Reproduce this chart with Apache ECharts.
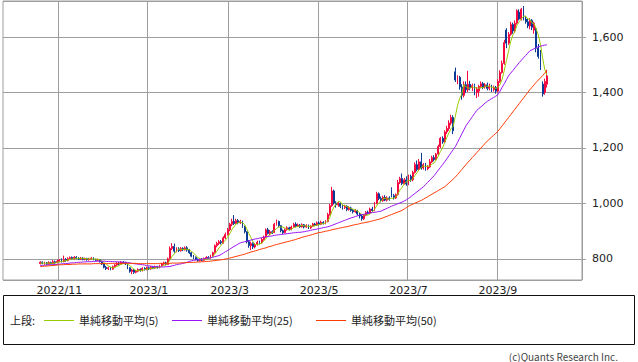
<!DOCTYPE html>
<html><head><meta charset="utf-8">
<script src="https://cdn.jsdelivr.net/npm/echarts@6/dist/echarts.min.js"></script>
<style>html,body{margin:0;padding:0;background:#fff}#c{width:638px;height:362px}</style>
</head><body><div id="c"></div>
<script>
// ---- data ----
const startDate = [2022, 10, 19];
const holidays = ['2022-11-03','2022-11-23','2023-01-02','2023-01-03','2023-01-09','2023-02-23','2023-03-21','2023-05-03','2023-05-04','2023-05-05','2023-07-17','2023-08-11','2023-09-18'];
const padBefore = 17, padAfter = 16;

const opens = [
783,788,784,786,781,787,783,790,786,
792,796,790,798,794,801,805,800,806,802,799,803,798,801,797,800,803,798,795,797,
790,782,770,765,768,763,772,778,784,781,788,785,782,768,755,760,752,756,762,758,766,762,
768,764,770,767,772,768,775,782,786,780,800,838,845,828,836,830,838,833,840,
832,822,810,805,798,794,799,795,801,805,803,810,822,848,856,862,858,876,888,
905,925,935,928,938,930,935,918,898,862,848,855,843,852,860,858,870,880,905,892,898,895,
925,935,920,902,895,905,912,906,915,925,918,922,916,923,915,920,912,918,926,922,
930,925,932,928,935,960,992,1045,1002,995,1000,990,985,990,978,984,975,970,974,962,
955,945,958,968,965,980,975,1000,1035,1018,1010,1022,1012,1020,1050,1028,1020,1032,1075,1090,1072,1085,
1070,1098,1085,1112,1140,1122,1150,1128,1140,1125,1132,1150,1165,1158,1178,1205,1235,1222,1258,1270,
1290,1310,1475,1445,1455,1420,1390,1428,1410,1430,1418,1425,1400,1405,1422,1432,1420,1428,1415,1422,1410,1418,
1405,1440,1472,1505,1625,1578,1610,1645,1622,1650,1690,1665,1705,1665,1655,1640,1660,1625,1630,1560,
1545,1430,1400,1430];
const closes = [
788,784,786,781,787,783,790,786,792,
796,790,798,794,801,805,800,806,802,799,803,798,801,797,800,803,798,795,797,790,
782,770,765,768,763,772,778,784,781,788,785,782,768,755,760,752,756,762,758,766,762,768,
764,770,767,772,768,775,782,786,780,800,838,845,828,836,830,838,833,840,832,
822,810,805,798,794,799,795,801,805,803,810,822,848,856,862,858,876,888,905,
925,935,928,938,930,935,918,898,862,848,855,843,852,860,858,870,878,905,892,898,895,925,
935,920,902,895,905,912,906,915,925,918,922,916,923,915,920,912,918,926,922,930,
925,932,928,935,960,992,1045,1002,995,1000,990,985,990,978,984,975,970,974,962,955,
945,958,968,965,980,975,1000,1035,1018,1010,1022,1012,1020,1015,1028,1020,1032,1075,1090,1072,1085,1070,
1098,1085,1112,1140,1122,1150,1128,1140,1125,1132,1150,1165,1158,1178,1205,1235,1222,1258,1270,1290,
1310,1262,1445,1455,1420,1390,1428,1410,1430,1418,1425,1400,1412,1422,1432,1420,1428,1415,1422,1410,1418,1405,
1440,1472,1505,1580,1578,1610,1645,1622,1650,1695,1665,1700,1665,1655,1640,1660,1635,1650,1560,1530,
1490,1395,1440,1460];
const highs = [
792,791,790,789,792,790,796,794,797,
800,802,812,803,806,809,809,810,810,806,807,806,805,804,804,807,806,801,801,800,
792,785,775,772,772,776,781,788,789,792,792,790,784,770,764,763,760,766,766,770,770,772,
772,774,774,776,775,779,786,790,790,805,845,857,855,842,842,843,842,845,846,
836,825,814,809,802,803,803,805,810,810,815,826,852,862,868,868,882,895,912,
930,945,958,945,944,941,938,920,900,868,862,860,858,866,866,876,884,910,912,904,903,930,
942,938,922,906,910,918,916,920,930,932,928,926,928,926,925,924,922,930,930,935,
936,938,936,940,966,998,1060,1050,1008,1005,1004,996,995,993,990,988,980,979,977,966,
960,962,972,974,985,988,1005,1042,1040,1025,1028,1030,1026,1026,1058,1034,1036,1085,1096,1108,1092,1098,
1104,1104,1118,1148,1155,1160,1182,1146,1146,1138,1160,1172,1174,1182,1212,1240,1242,1264,1280,1300,
1320,1318,1490,1462,1460,1430,1440,1440,1478,1442,1432,1432,1420,1428,1440,1438,1434,1436,1432,1428,1425,1424,
1448,1480,1515,1590,1632,1618,1655,1652,1660,1700,1700,1705,1712,1675,1668,1668,1665,1655,1636,1575,
1553,1440,1450,1482];
const lows = [
780,781,779,778,779,780,781,783,784,
788,787,788,790,791,798,797,798,799,796,796,795,795,794,794,797,795,792,791,787,
778,766,760,760,759,761,769,775,777,779,782,778,763,750,745,746,748,752,754,755,758,759,
760,761,763,764,765,766,772,779,777,779,798,832,822,824,825,826,828,830,826,
818,806,800,795,790,791,792,793,798,800,801,808,820,842,850,852,855,872,884,
900,918,922,924,925,926,912,892,856,840,832,836,838,848,852,855,866,876,888,886,890,893,
920,914,896,890,892,902,902,903,912,914,915,912,913,910,912,908,908,915,918,919,
921,922,924,925,932,956,988,996,985,988,983,978,980,972,974,970,964,966,956,946,
938,940,954,960,962,970,972,997,1012,1004,1006,1008,1007,1010,1022,1014,1016,1028,1070,1066,1068,1064,
1066,1078,1080,1108,1116,1118,1122,1122,1118,1120,1128,1146,1152,1155,1174,1200,1215,1218,1250,1262,
1282,1250,1438,1430,1410,1374,1382,1398,1402,1408,1405,1390,1380,1385,1415,1412,1414,1408,1408,1402,1404,1396,
1400,1435,1468,1500,1560,1572,1605,1612,1615,1645,1660,1660,1660,1648,1632,1628,1625,1612,1545,1522,
1481,1385,1392,1418];
const ma5 = [
785,785,785,784,785,784,785,785,788,
789,791,792,794,796,798,800,801,803,802,802,802,801,800,800,800,800,799,799,797,
792,787,781,775,770,768,769,773,776,781,783,784,781,776,770,763,758,757,758,759,761,763,
764,766,766,768,768,770,773,777,778,785,797,810,818,829,835,835,833,835,835,
833,827,822,813,806,801,798,797,799,801,803,808,818,828,840,849,860,868,878,
890,906,916,926,931,933,930,924,909,892,876,861,852,852,854,857,864,874,881,889,894,903,
909,915,915,915,911,907,904,907,913,915,917,919,921,919,919,917,918,918,920,922,
924,927,927,930,936,949,972,987,999,1007,1006,994,992,989,985,982,979,976,973,967,
961,959,958,958,963,969,978,991,1002,1008,1017,1019,1016,1016,1019,1019,1023,1034,1049,1058,1071,1078,
1083,1082,1090,1101,1111,1122,1130,1136,1133,1135,1135,1142,1146,1157,1171,1188,1200,1220,1238,1255,
1270,1278,1315,1352,1378,1394,1428,1421,1416,1415,1422,1417,1417,1415,1418,1417,1423,1423,1423,1419,1419,1414,
1419,1429,1448,1480,1515,1549,1584,1607,1621,1644,1655,1666,1675,1676,1665,1664,1651,1648,1629,1607,
1573,1525,1483,1463];
const ma25 = [
776,777,777,778,778,779,779,780,780,781,
782,783,783,784,785,786,786,787,788,
788,789,789,790,790,790,791,791,792,792,
792,792,791,791,791,790,790,790,
789,789,788,788,787,
786,784,783,782,781,780,
779,778,776,775,
774,773,772,772,771,
771,771,772,772,
773,775,777,779,781,782,
784,786,788,791,793,795,
796,797,798,799,800,802,
803,804,806,808,810,812,
816,821,826,830,835,
840,845,849,854,858,
860,862,864,866,868,870,
872,873,875,877,878,880,
881,882,883,885,886,
887,888,889,890,891,892,893,
894,895,896,896,897,898,
900,901,903,905,906,908,
909,911,913,914,916,918,
921,924,927,930,
933,936,939,942,945,
948,950,953,955,958,
960,961,963,964,966,
967,968,969,971,972,
976,979,983,986,990,
993,996,999,1002,1005,
1009,1013,1018,
1024,1030,1036,1042,1048,1054,1060,
1068,1076,1084,1092,1100,
1110,1120,1130,1140,1150,
1161,1172,1183,1194,1205,
1220,1235,1250,1265,1280,
1291,1302,1313,1324,1335,
1342,1348,1355,1362,1368,
1373,1378,1382,1387,1392,
1405,1419,1432,1446,1460,
1470,1479,1489,1498,1508,
1516,1525,1533,1542,1550,
1554,1558,1562,1565,
1567,1569,1571,1572];
const ma50 = [
772,773,774,774,775,776,776,777,778,779,
779,779,780,780,780,781,781,781,782,782,782,
782,782,782,782,783,783,783,783,783,783,783,783,784,784,784,784,784,784,784,784,
784,784,784,784,784,783,783,783,783,783,783,
783,783,783,783,784,784,784,784,784,
784,785,785,785,785,786,786,786,787,787,
787,788,788,789,789,790,790,791,791,792,
793,794,795,796,797,798,800,801,803,
805,807,809,811,813,815,
817,820,822,825,827,
829,831,834,836,838,
840,843,845,847,850,852,
854,856,858,860,862,864,866,
868,870,873,875,878,880,
882,884,886,888,891,893,
895,896,898,900,901,903,
905,907,908,910,
912,913,915,916,918,
920,922,924,925,927,
929,930,932,933,935,
937,939,941,943,945,
948,951,954,957,960,
963,966,969,972,975,
980,985,990,
994,997,1001,1004,1008,1011,1015,
1020,1024,1029,1033,1038,
1042,1047,1051,1056,1060,
1067,1074,1081,1088,1095,
1104,1113,1122,1131,1140,
1149,1157,1166,1174,1183,
1191,1200,1208,1217,1225,
1232,1239,1246,1253,1260,
1270,1280,1290,1300,1310,
1320,1330,1340,1350,1360,
1370,1380,1390,1400,1410,
1419,1428,1437,1445,
1453,1461,1470,1478];
const legendNames = ['単純移動平均(5)', '単純移動平均(25)', '単純移動平均(50)'];
const colors = { up: '#f5093e', down: '#0b3a96', ma5: '#99cc00', ma25: '#9a16f5', ma50: '#ff3a00', grid: '#9e9e9e' };

// ---- categories (trading days) ----
function fmt(d){const m=d.getUTCMonth()+1, dd=d.getUTCDate();return d.getUTCFullYear()+'-'+(m<10?'0':'')+m+'-'+(dd<10?'0':'')+dd;}
const days = [];
{
  const d = new Date(Date.UTC(startDate[0], startDate[1]-1, startDate[2]));
  while (days.length < closes.length) {
    const dow = d.getUTCDay(); const s = fmt(d);
    if (dow !== 0 && dow !== 6 && holidays.indexOf(s) < 0) days.push(s);
    d.setUTCDate(d.getUTCDate()+1);
  }
}
const cats = [];
for (let i=0;i<padBefore;i++) cats.push('pb'+i);
days.forEach(s=>cats.push(s));
for (let i=0;i<padAfter;i++) cats.push('pa'+i);
const labelIdx = new Set();
days.forEach((s,i)=>{
  if (i===0) return;
  const m = +s.slice(5,7), pm = +days[i-1].slice(5,7);
  if (m !== pm && m % 2 === 1) labelIdx.add(i+padBefore);
});
const showFn = (idx) => labelIdx.has(idx);

const chart = echarts.init(document.getElementById('c'), null, {renderer:'svg'});
const axisFont = 'DejaVu Sans';
const jpFont = '"Noto Sans CJK JP"';
chart.setOption({
  animation: false,
  backgroundColor: '#fff',
  grid: { left: 3, right: 56, top: 1, bottom: 82, show: true, borderColor: colors.grid, borderWidth: 1 },
  xAxis: {
    type: 'category', data: cats, boundaryGap: true,
    axisLine: { show: false }, axisTick: { show: false },
    axisLabel: { interval: showFn, color: '#222', fontSize: 11, fontFamily: axisFont, margin: 5,
      formatter: v => v.slice(0,4) + '/' + (+v.slice(5,7)) },
    splitLine: { show: true, interval: showFn, lineStyle: { color: colors.grid, width: 1 } }
  },
  yAxis: {
    type: 'value', position: 'right', min: 724, max: 1730, minInterval: 200, maxInterval: 200, splitNumber: 5,
    axisLine: { show: false },
    axisTick: { show: true, length: 4, lineStyle: { color: colors.grid } },
    axisLabel: { showMinLabel: false, showMaxLabel: false, color: '#222', fontSize: 11, fontFamily: axisFont, margin: 10,
      formatter: v => v.toLocaleString('en-US') },
    splitLine: { show: true, lineStyle: { color: colors.grid, width: 1 } }
  },
  series: [
    { type: 'candlestick', name: 'price', barWidth: 1.4,
      encode: { x: 0, y: [1,2,3,4] },
      data: opens.map((o,i)=>[i+padBefore, o, closes[i], lows[i], highs[i]]),
      itemStyle: { color: colors.up, color0: colors.down, borderColor: colors.up, borderColor0: colors.down, borderWidth: 1 } },
    { type: 'line', name: legendNames[0], data: ma5.map((v,i)=>[i+padBefore, v]), showSymbol: false, symbol: 'none',
      lineStyle: { color: colors.ma5, width: 1 }, z: 3 },
    { type: 'line', name: legendNames[1], data: ma25.map((v,i)=>[i+padBefore, v]), showSymbol: false, symbol: 'none',
      lineStyle: { color: colors.ma25, width: 1 }, z: 3 },
    { type: 'line', name: legendNames[2], data: ma50.map((v,i)=>[i+padBefore, v]), showSymbol: false, symbol: 'none',
      lineStyle: { color: colors.ma50, width: 1 }, z: 3 }
  ],
  graphic: [
    { type: 'rect', shape: { x: 3.5, y: 295.5, width: 631, height: 49 }, style: { fill: 'none', stroke: '#111', lineWidth: 1 } },
    { type: 'text', x: 10, y: 320, style: { text: '上段:', font: '11px ' + jpFont, fill: '#222', verticalAlign: 'middle' } },
    { type: 'line', shape: { x1: 44, y1: 320.5, x2: 74, y2: 320.5 }, style: { stroke: colors.ma5, lineWidth: 1 } },
    { type: 'text', x: 79, y: 320, style: { text: legendNames[0], font: '11px ' + jpFont, fill: '#222', verticalAlign: 'middle' } },
    { type: 'line', shape: { x1: 172, y1: 320.5, x2: 202, y2: 320.5 }, style: { stroke: colors.ma25, lineWidth: 1 } },
    { type: 'text', x: 207, y: 320, style: { text: legendNames[1], font: '11px ' + jpFont, fill: '#222', verticalAlign: 'middle' } },
    { type: 'line', shape: { x1: 316, y1: 320.5, x2: 346, y2: 320.5 }, style: { stroke: colors.ma50, lineWidth: 1 } },
    { type: 'text', x: 351, y: 320, style: { text: legendNames[2], font: '11px ' + jpFont, fill: '#222', verticalAlign: 'middle' } },
    { type: 'text', x: 618, y: 356, style: { text: '(c)Quants Research Inc.', font: '10px ' + jpFont, fill: '#444', align: 'right', verticalAlign: 'middle' } }
  ]
});
</script></body></html>
